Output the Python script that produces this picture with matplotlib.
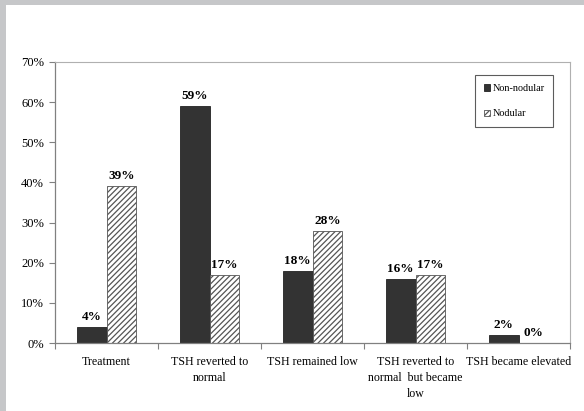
import matplotlib
matplotlib.use("Agg")
import matplotlib.pyplot as plt
from matplotlib.patches import Rectangle
import numpy as np

categories = ["Treatment", "TSH reverted to\nnormal", "TSH remained low",
              "TSH reverted to\nnormal  but became\nlow", "TSH became elevated"]
non_nodular = [4, 59, 18, 16, 2]
nodular = [39, 17, 28, 17, 0]
yticks = [0, 10, 20, 30, 40, 50, 60, 70]

plt.rcParams['font.family'] = ['Liberation Serif', 'DejaVu Serif']
plt.rcParams['hatch.color'] = '#555555'
plt.rcParams['hatch.linewidth'] = 0.9

W, H = 584, 411
fig = plt.figure(figsize=(W/100, H/100), dpi=100)
fig.patch.set_facecolor('white')
# gray frame strips (top and left)
fig.add_artist(Rectangle((0, 1 - 5/H), 1, 5/H, transform=fig.transFigure,
                         facecolor='#c6c7c9', edgecolor='none'))
fig.add_artist(Rectangle((0, 0), 6/W, 1, transform=fig.transFigure,
                         facecolor='#c6c7c9', edgecolor='none'))

ax = fig.add_axes([55/W, 1 - 343/H, 515/W, 281/H])
x = np.arange(len(categories))
w = 0.29
ax.bar(x - w/2, non_nodular, width=w, color='#333333', edgecolor='#222222',
       linewidth=0.6, label='Non-nodular', zorder=2)
ax.bar(x + w/2, nodular, width=w, color='white', edgecolor='#555555',
       linewidth=0.6, hatch='//////', label='Nodular', zorder=2)

for xi, v in zip(x - w/2, non_nodular):
    ax.text(xi, v + 1.0, f"{v}%", ha='center', va='bottom', fontsize=9.5,
            fontweight='bold')
for xi, v in zip(x + w/2, nodular):
    ax.text(xi, v + 1.0, f"{v}%", ha='center', va='bottom', fontsize=9.5,
            fontweight='bold')

ax.set_xlim(-0.5, len(categories) - 0.5)
ax.set_ylim(0, 70)
ax.set_yticks(yticks)
ax.set_yticklabels([f"{t}%" for t in yticks], fontsize=9)
ax.set_xticks(np.arange(len(categories) + 1) - 0.5)
ax.set_xticklabels([])
ax.set_xticks(x, minor=True)
labs = ax.set_xticklabels(categories, minor=True, fontsize=8.6, linespacing=1.45)
for t in labs:
    t.set_multialignment('center')
ax.tick_params(axis='x', which='minor', length=0, pad=9)
ax.tick_params(axis='x', which='major', length=4, color='#808080', direction='out')
ax.tick_params(axis='y', length=4, color='#808080', direction='out', pad=4)

for s in ['left', 'bottom']:
    ax.spines[s].set_color('#808080')
    ax.spines[s].set_linewidth(0.9)
for s in ['top', 'right']:
    ax.spines[s].set_color('#b0b0b0')
    ax.spines[s].set_linewidth(0.8)

leg = ax.legend(loc='upper left', bbox_to_anchor=((475-55)/515, (343-75)/281),
                fontsize=7.3, frameon=True, fancybox=False, edgecolor='#333333',
                handlelength=0.6, handleheight=0.6, handletextpad=0.2,
                labelspacing=1.6, borderpad=0.9, borderaxespad=0)
leg.get_frame().set_linewidth(0.8)

fig.savefig('out.png', dpi=100)
